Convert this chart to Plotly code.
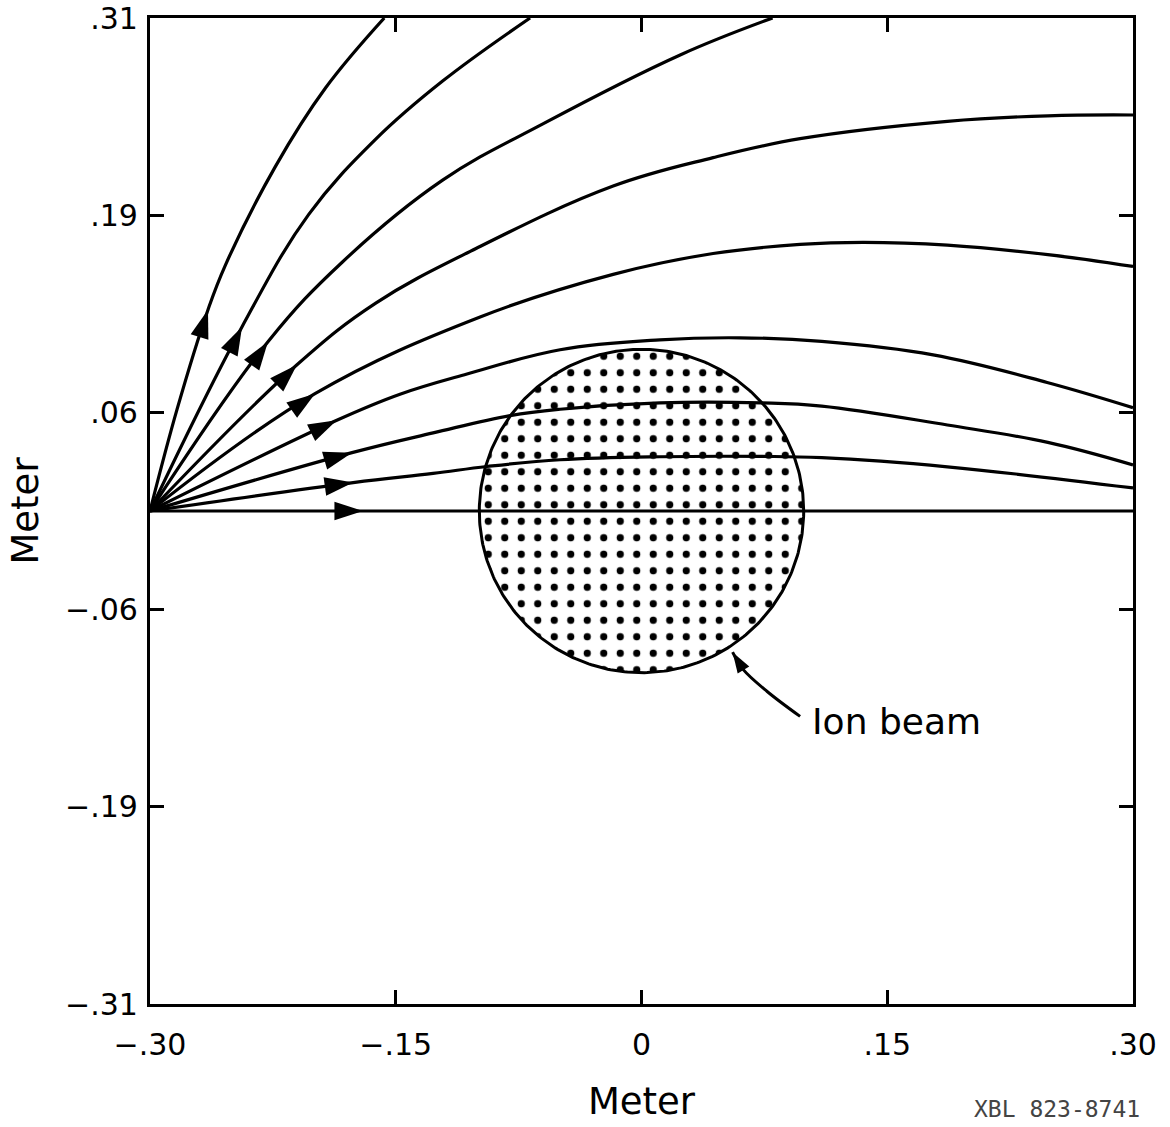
import numpy as np
import plotly.graph_objects as go

# ---- Field lines (metres) ----
line1_x = [-0.300, -0.2835, -0.2646, -0.2541, -0.2235, -0.1929, -0.1570]
line1_y = [0.000, 0.0644, 0.1276, 0.1556, 0.2183, 0.2681, 0.3125]

line2_x = [-0.300, -0.2438, -0.2031, -0.1622, -0.1214, -0.0680]
line2_y = [0.000, 0.1168, 0.1880, 0.2357, 0.2725, 0.3125]

line3_x = [-0.300, -0.2280, -0.1827, -0.1214, -0.0602, 0.0236, 0.0800]
line3_y = [0.000, 0.1073, 0.1577, 0.2097, 0.2454, 0.2891, 0.3125]

line4_x = [-0.300, -0.2103, -0.1622, -0.1010, -0.0173, 0.0437, 0.0968, 0.1867, 0.2480, 0.3000]
line4_y = [0.000, 0.0927, 0.1318, 0.1664, 0.2060, 0.2240, 0.2360, 0.2470, 0.2505, 0.2510]

line5_x = [-0.300, -0.1993, -0.0985, -0.0173, 0.0437, 0.0968, 0.1357, 0.1867, 0.2480, 0.3000]
line5_y = [0.000, 0.0744, 0.1230, 0.1500, 0.1632, 0.1690, 0.1703, 0.1685, 0.1625, 0.1550]

line6_x = [-0.300, -0.1860, -0.1474, -0.1065, -0.0497, 0.0112, 0.0600, 0.1100, 0.1780, 0.2476, 0.3000]
line6_y = [0.000, 0.0575, 0.0740, 0.0868, 0.1022, 0.1085, 0.1098, 0.1075, 0.0990, 0.0815, 0.0655]

line7_x = [-0.300, -0.1767, -0.1272, -0.0802, -0.0497, 0.0112, 0.0730, 0.1100, 0.1867, 0.2480, 0.3000]
line7_y = [0.000, 0.0370, 0.0495, 0.0605, 0.0645, 0.0685, 0.0685, 0.0665, 0.0545, 0.0435, 0.0292]

line8_x = [-0.300, -0.1760, -0.1272, -0.0943, -0.0497, 0.0112, 0.0730, 0.1100, 0.1867, 0.3000]
line8_y = [0.000, 0.0180, 0.0238, 0.0282, 0.0325, 0.0344, 0.0346, 0.0338, 0.0280, 0.0146]

line9_x = [-0.300, -0.1700, 0.3000]
line9_y = [0.000, 0.000, 0.000]

# index of the point carrying the direction arrow on each line
arrow_index = [2, 1, 1, 1, 1, 1, 1, 1, 1]

# ---- Ion beam (centre and half extents, metres) ----
beam_center_x = 0.0
beam_center_y = 0.0
beam_half_width = 0.099
beam_half_height = 0.1025

# ---- Label leader for "Ion beam" ----
leader_x = [0.0968, 0.0767, 0.0620, 0.0556]
leader_y = [-0.1302, -0.1144, -0.1004, -0.0895]
label_text = "Ion beam"
label_x = 0.1029
label_y = -0.1333

# ---- Axis ticks ----
x_tick_vals = [-0.30, -0.15, 0.0, 0.15, 0.30]
x_tick_text = ["\u2212.30", "\u2212.15", "0", ".15", ".30"]
y_tick_vals = [-0.3125, -0.1875, -0.0625, 0.0625, 0.1875, 0.3125]
y_tick_text = ["\u2212.31", "\u2212.19", "\u2212.06", ".06", ".19", ".31"]

field_lines = [
    (line1_x, line1_y), (line2_x, line2_y), (line3_x, line3_y),
    (line4_x, line4_y), (line5_x, line5_y), (line6_x, line6_y),
    (line7_x, line7_y), (line8_x, line8_y), (line9_x, line9_y),
]

FONT = "DejaVu Sans"
fig = go.Figure()

# Ion beam disc with dot pattern
theta = np.linspace(0, 2 * np.pi, 361)
fig.add_trace(go.Scatter(
    x=beam_center_x + beam_half_width * np.cos(theta),
    y=beam_center_y + beam_half_height * np.sin(theta),
    mode="lines", fill="toself", fillcolor="white",
    fillpattern=dict(shape=".", fgcolor="black", bgcolor="white", fgopacity=1,
                     size=16.5, solidity=0.15, fillmode="replace"),
    line=dict(color="black", width=3),
    hoverinfo="skip", showlegend=False,
))

# Field lines with arrowheads
for (xs, ys), k in zip(field_lines, arrow_index):
    sizes = [30 if i == k else 0 for i in range(len(xs))]
    fig.add_trace(go.Scatter(
        x=xs, y=ys, mode="lines+markers",
        line=dict(color="black", width=3.2, shape="spline", smoothing=1.1),
        marker=dict(symbol="arrow", size=sizes, angleref="previous",
                    color="black", opacity=1, line=dict(width=0)),
        hoverinfo="skip", showlegend=False,
    ))

# Leader to the beam
fig.add_trace(go.Scatter(
    x=leader_x, y=leader_y, mode="lines+markers",
    line=dict(color="black", width=3, shape="spline"),
    marker=dict(symbol="arrow", size=[0] * (len(leader_x) - 1) + [22],
                angleref="previous", color="black", opacity=1, line=dict(width=0)),
    hoverinfo="skip", showlegend=False,
))

fig.add_annotation(x=label_x, y=label_y, xref="x", yref="y", text=label_text,
                   showarrow=False, xanchor="left", yanchor="middle",
                   font=dict(family=FONT, size=36, color="black"))

fig.add_annotation(x=0.923, y=-0.106, xref="paper", yref="paper",
                   text="XBL 823-8741", showarrow=False,
                   xanchor="center", yanchor="middle",
                   font=dict(family="DejaVu Sans Mono", size=23, color="#444444"))

axis_common = dict(
    ticks="inside", ticklen=14, tickwidth=3, tickcolor="black",
    showline=True, linewidth=3.2, linecolor="black", mirror="ticks",
    showgrid=False, zeroline=False, ticklabeloverflow="allow",
    tickfont=dict(family=FONT, size=30, color="black"),
)

fig.update_xaxes(range=[-0.30, 0.30], tickvals=x_tick_vals, ticktext=x_tick_text,
                 ticklabelstandoff=12,
                 title=dict(text="Meter", font=dict(family=FONT, size=37, color="black"),
                            standoff=28),
                 **axis_common)
fig.update_yaxes(range=[-0.3125, 0.3125], tickvals=y_tick_vals, ticktext=y_tick_text,
                 ticklabelstandoff=3,
                 title=dict(text="Meter", font=dict(family=FONT, size=37, color="black"),
                            standoff=16),
                 **axis_common)

fig.update_layout(
    width=1170, height=1127,
    margin=dict(l=150, r=37, t=18, b=123, autoexpand=False),
    paper_bgcolor="white", plot_bgcolor="white",
    showlegend=False,
    font=dict(family=FONT, color="black"),
)

# remove the browser's default page margin so the figure sits at the window's corner
fig.write_html("out.html",
               config={"displayModeBar": False},
               post_script="document.body.style.margin='0px';")
